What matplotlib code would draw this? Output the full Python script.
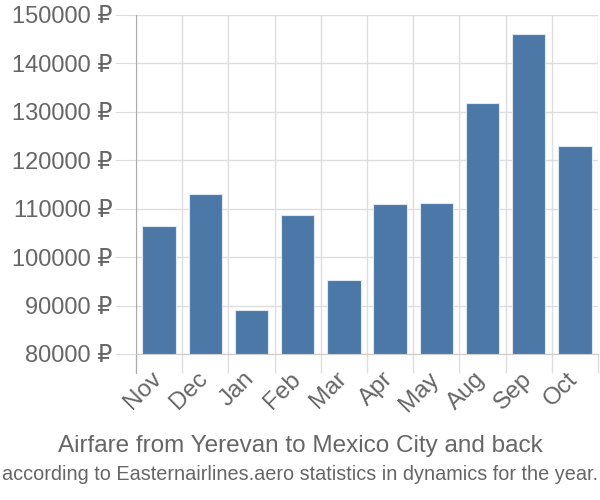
import numpy as np
import matplotlib
matplotlib.use('Agg')
from matplotlib import pyplot as plt
from matplotlib import transforms

months = ['Nov', 'Dec', 'Jan', 'Feb', 'Mar', 'Apr', 'May', 'Aug', 'Sep', 'Oct']
prices = [106400, 113100, 89000, 108800, 95300, 111000, 111100, 131800, 146000, 122900]
yticks = [80000, 90000, 100000, 110000, 120000, 130000, 140000, 150000]

plt.rcParams['font.family'] = ['Liberation Sans', 'DejaVu Sans']
grey = '#666666'

fig = plt.figure(figsize=(6, 5), dpi=100)
ax = fig.add_axes([136/600, 146/500, 462/600, 339/500])

x = np.arange(len(months))
base = yticks[0]
ax.bar(x, np.array(prices) - base, bottom=base, width=0.72,
       color='#4c78a8', edgecolor='#dfe7f0', linewidth=0.8, zorder=3)

ax.set_xlim(-0.5, len(months) - 0.5)
ax.set_ylim(base, yticks[-1])
ax.set_yticks(yticks)
ax.set_yticklabels([f'{v} ₽' for v in yticks], color=grey, fontsize=17)
ax.tick_params(axis='y', length=15, color='#dddddd', pad=2)

ax.set_xticks(x)
ax.set_xticklabels(months, rotation=45, ha='right', rotation_mode='anchor',
                   color=grey, fontsize=17.5)
ax.tick_params(axis='x', which='major', length=0, pad=10)
# nudge rotated labels a bit to the left
shift = transforms.ScaledTranslation(-6/72, 0, fig.dpi_scale_trans)
for lbl in ax.get_xticklabels():
    lbl.set_transform(lbl.get_transform() + shift)
ax.set_xticks(np.arange(len(months) + 1) - 0.5, minor=True)
ax.tick_params(axis='x', which='minor', length=14, color='#dddddd', width=1)

ax.grid(axis='y', color='#dddddd', linewidth=1, zorder=0)
ax.grid(axis='x', which='minor', color='#dddddd', linewidth=1, zorder=0)

for s in ['top', 'right']:
    ax.spines[s].set_visible(False)
ax.spines['left'].set_color('#aaaaaa')
ax.spines['left'].set_bounds(base - 3900, yticks[-1])
ax.spines['bottom'].set_color('#cccccc')

fig.text(0.5, 0.108, 'Airfare from Yerevan to Mexico City and back',
         ha='center', va='center', color=grey, fontsize=17.5)
fig.text(0.5, 0.05, 'according to Easternairlines.aero statistics in dynamics for the year.',
         ha='center', va='center', color=grey, fontsize=14.3)

fig.savefig('out.png', dpi=100)
